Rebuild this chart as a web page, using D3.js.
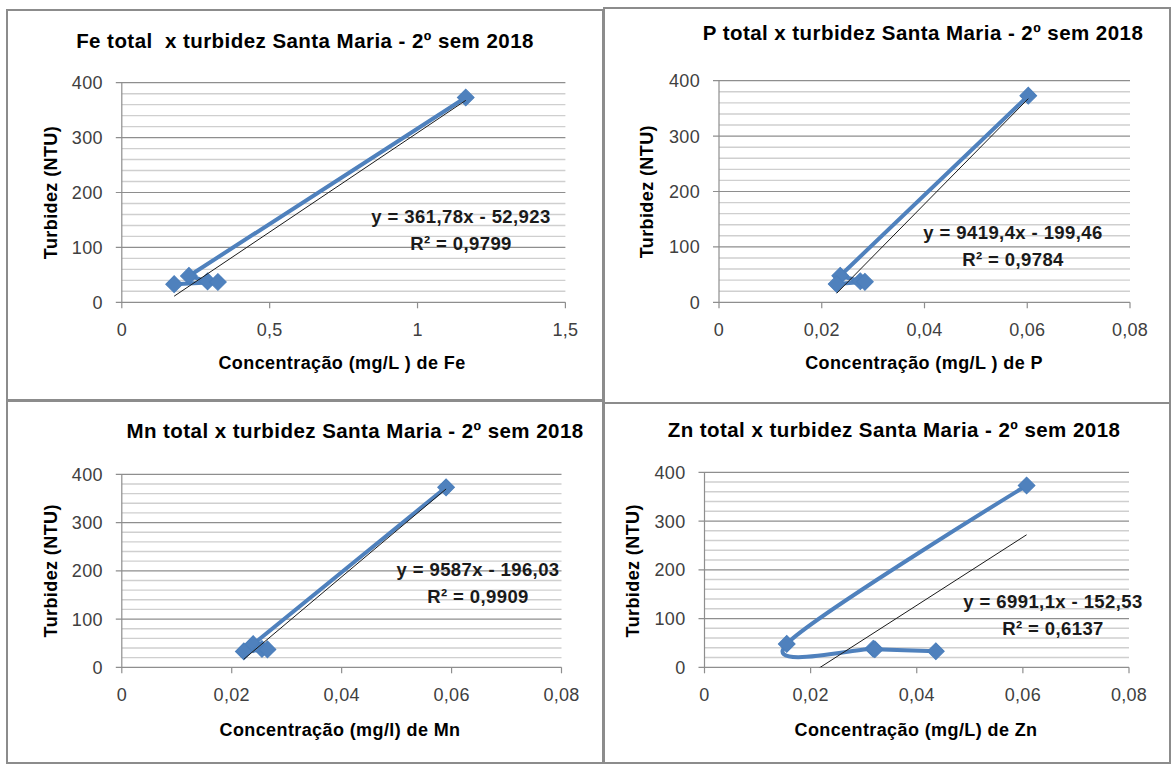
<!DOCTYPE html>
<html>
<head>
<meta charset="utf-8">
<script src="https://cdn.jsdelivr.net/npm/d3@7/dist/d3.min.js"></script>
<style>
  body { margin: 0; background: #fff; }
  svg { display: block; }
  text { font-family: "Liberation Sans", Arial, sans-serif; white-space: pre; }
</style>
</head>
<body>
<script>
// samples in sheet order (same order in every panel)
var turbidez = [373, 48, 38, 37, 33];

var feX = [1.163, 0.227, 0.29, 0.325, 0.177];
var pX  = [0.0602, 0.0236, 0.0275, 0.0284, 0.0229];
var mnX = [0.059, 0.0239, 0.0255, 0.0265, 0.0222];
var znX = [0.0607, 0.0155, 0.0318, 0.0321, 0.0436];

// linear trendlines printed on the charts
var slopes     = [361.78, 9419.4, 9587, 6991.1];
var intercepts = [-52.923, -199.46, -196.03, -152.53];
var eqLabels   = ["y = 361,78x - 52,923", "y = 9419,4x - 199,46", "y = 9587x - 196,03", "y = 6991,1x - 152,53"];
var r2Labels   = ["R² = 0,9799", "R² = 0,9784", "R² = 0,9909", "R² = 0,6137"];

var titles  = ["Fe total  x turbidez Santa Maria - 2º sem 2018",
               "P total x turbidez Santa Maria - 2º sem 2018",
               "Mn total x turbidez Santa Maria - 2º sem 2018",
               "Zn total x turbidez Santa Maria - 2º sem 2018"];
var xTitles = ["Concentração (mg/L ) de Fe", "Concentração (mg/L ) de P",
               "Concentração (mg/l) de Mn", "Concentração (mg/L) de Zn"];
var yTitle  = "Turbidez (NTU)";

var feTicks    = [0, 0.5, 1, 1.5];
var smallTicks = [0, 0.02, 0.04, 0.06, 0.08];
var yTicks     = [0, 100, 200, 300, 400];
var yMinor     = d3.range(20, 400, 20);

var series = [feX, pX, mnX, znX];
var xMax   = [1.5, 0.08, 0.08, 0.08];
var xTickSets = [feTicks, smallTicks, smallTicks, smallTicks];
var smooth = [false, false, false, true];   // only the Zn series is drawn smoothed

// layout for each panel (pixels)
var layout = [
  {box:[7,10,596,390],   x0:121.8, x1:565.4, yTop:82.7,  yBot:302.3, tx:305, ty:48,  xtx:342, xty:369, ytx:50.6,  yty:192.5, ex:461,  ey:223},
  {box:[604,8,566,395],  x0:719,   x1:1130,  yTop:80.7,  yBot:302.3, tx:923, ty:40,  xtx:924, xty:369, ytx:647,   yty:191.7, ex:1013, ey:239},
  {box:[7,401,596,362],  x0:121.8, x1:561.5, yTop:474.3, yBot:667.3, tx:355, ty:438, xtx:340, xty:736, ytx:50.6,  yty:570.8, ex:478,  ey:576},
  {box:[604,403,566,360],x0:704.5, x1:1129,  yTop:472.3, yBot:667.3, tx:894, ty:437, xtx:916, xty:736, ytx:632.8, yty:570.8, ex:1053, ey:608}
];

var blue = "#4f81bd";
var fmt = function(v) { return String(v).replace(".", ","); };

var svg = d3.select("body").append("svg")
  .attr("width", 1171).attr("height", 764);

svg.append("rect").attr("width", 1171).attr("height", 764).attr("fill", "#fff");

layout.forEach(function(L, i) {
  var g = svg.append("g");

  // panel frame
  g.append("rect")
    .attr("x", L.box[0]).attr("y", L.box[1])
    .attr("width", L.box[2]).attr("height", L.box[3])
    .attr("fill", "none").attr("stroke", "#8c8c8c").attr("stroke-width", 2);

  var x = d3.scaleLinear().domain([0, xMax[i]]).range([L.x0, L.x1]);
  var y = d3.scaleLinear().domain([0, 400]).range([L.yBot, L.yTop]);

  // minor gridlines
  g.selectAll(".minor").data(yMinor.filter(function(v){ return v % 100 !== 0; }))
    .enter().append("line")
    .attr("x1", L.x0).attr("x2", L.x1)
    .attr("y1", function(d){ return y(d); }).attr("y2", function(d){ return y(d); })
    .attr("stroke", "#cfcfcf").attr("stroke-width", 1.4);

  // major gridlines
  g.selectAll(".major").data(yTicks)
    .enter().append("line")
    .attr("x1", L.x0 - 6).attr("x2", L.x1)
    .attr("y1", function(d){ return y(d); }).attr("y2", function(d){ return y(d); })
    .attr("stroke", "#8e8e8e").attr("stroke-width", 1.2);

  // y axis line
  g.append("line")
    .attr("x1", L.x0).attr("x2", L.x0).attr("y1", y(400)).attr("y2", y(0))
    .attr("stroke", "#8e8e8e").attr("stroke-width", 1.2);

  // x ticks
  g.selectAll(".xt").data(xTickSets[i]).enter().append("line")
    .attr("x1", function(d){ return x(d); }).attr("x2", function(d){ return x(d); })
    .attr("y1", y(0)).attr("y2", y(0) + 6)
    .attr("stroke", "#8e8e8e").attr("stroke-width", 1.2);

  // tick labels
  g.selectAll(".xl").data(xTickSets[i]).enter().append("text")
    .attr("x", function(d){ return x(d); }).attr("y", y(0) + 34)
    .attr("text-anchor", "middle").attr("font-size", 18).attr("fill", "#404040")
    .attr("letter-spacing", 0.3)
    .text(fmt);
  g.selectAll(".yl").data(yTicks).enter().append("text")
    .attr("x", L.x0 - 19).attr("y", function(d){ return y(d) + 6.5; })
    .attr("text-anchor", "end").attr("font-size", 18).attr("fill", "#404040")
    .attr("letter-spacing", 0.3)
    .text(function(d){ return d; });

  // series line
  var pts = series[i].map(function(v, k){ return [v, turbidez[k]]; });
  var line = d3.line()
    .x(function(d){ return x(d[0]); })
    .y(function(d){ return y(d[1]); })
    .curve(smooth[i] ? d3.curveCatmullRom.alpha(0) : d3.curveLinear);
  g.append("path").datum(pts)
    .attr("d", line)
    .attr("fill", "none").attr("stroke", blue).attr("stroke-width", 4)
    .attr("stroke-linejoin", "round").attr("stroke-linecap", "round");

  // diamond markers
  var diamond = d3.symbol().type(d3.symbolSquare).size(140);
  g.selectAll(".pt").data(pts).enter().append("path")
    .attr("d", diamond)
    .attr("transform", function(d){ return "translate(" + x(d[0]) + "," + y(d[1]) + ") rotate(45)"; })
    .attr("fill", blue).attr("stroke", "#4a7ebb").attr("stroke-width", 1);

  // trendline over the data range, clipped to the plot
  var clipId = "clip" + i;
  svg.append("clipPath").attr("id", clipId).append("rect")
    .attr("x", L.x0).attr("y", L.yTop).attr("width", L.x1 - L.x0).attr("height", L.yBot - L.yTop);
  var xs = d3.extent(series[i]);
  var trend = xs.map(function(v){ return [v, slopes[i] * v + intercepts[i]]; });
  g.append("path").datum(trend)
    .attr("d", d3.line().x(function(d){ return x(d[0]); }).y(function(d){ return y(d[1]); }))
    .attr("clip-path", "url(#" + clipId + ")")
    .attr("fill", "none").attr("stroke", "#1a1a1a").attr("stroke-width", 1);

  // equation labels
  g.append("text").attr("x", L.ex).attr("y", L.ey)
    .attr("text-anchor", "middle").attr("font-size", 18.5).attr("font-weight", "bold")
    .attr("letter-spacing", 0.4)
    .attr("fill", "#1a1a1a").text(eqLabels[i]);
  g.append("text").attr("x", L.ex).attr("y", L.ey + 26.5)
    .attr("text-anchor", "middle").attr("font-size", 18.5).attr("font-weight", "bold")
    .attr("letter-spacing", 0.4)
    .attr("fill", "#1a1a1a").text(r2Labels[i]);

  // titles
  g.append("text").attr("x", L.tx).attr("y", L.ty)
    .attr("text-anchor", "middle").attr("font-size", 20.5).attr("font-weight", "bold")
    .attr("letter-spacing", 0.45)
    .attr("fill", "#000").text(titles[i]);
  g.append("text").attr("x", L.xtx).attr("y", L.xty)
    .attr("text-anchor", "middle").attr("font-size", 18).attr("font-weight", "bold")
    .attr("letter-spacing", 0.4)
    .attr("fill", "#000").text(xTitles[i]);
  g.append("text")
    .attr("transform", "translate(" + L.ytx + "," + L.yty + ") rotate(-90)")
    .attr("text-anchor", "middle").attr("dominant-baseline", "central")
    .attr("font-size", 18).attr("font-weight", "bold").attr("letter-spacing", 0.4)
    .attr("fill", "#000").text(yTitle);
});
</script>
</body>
</html>
